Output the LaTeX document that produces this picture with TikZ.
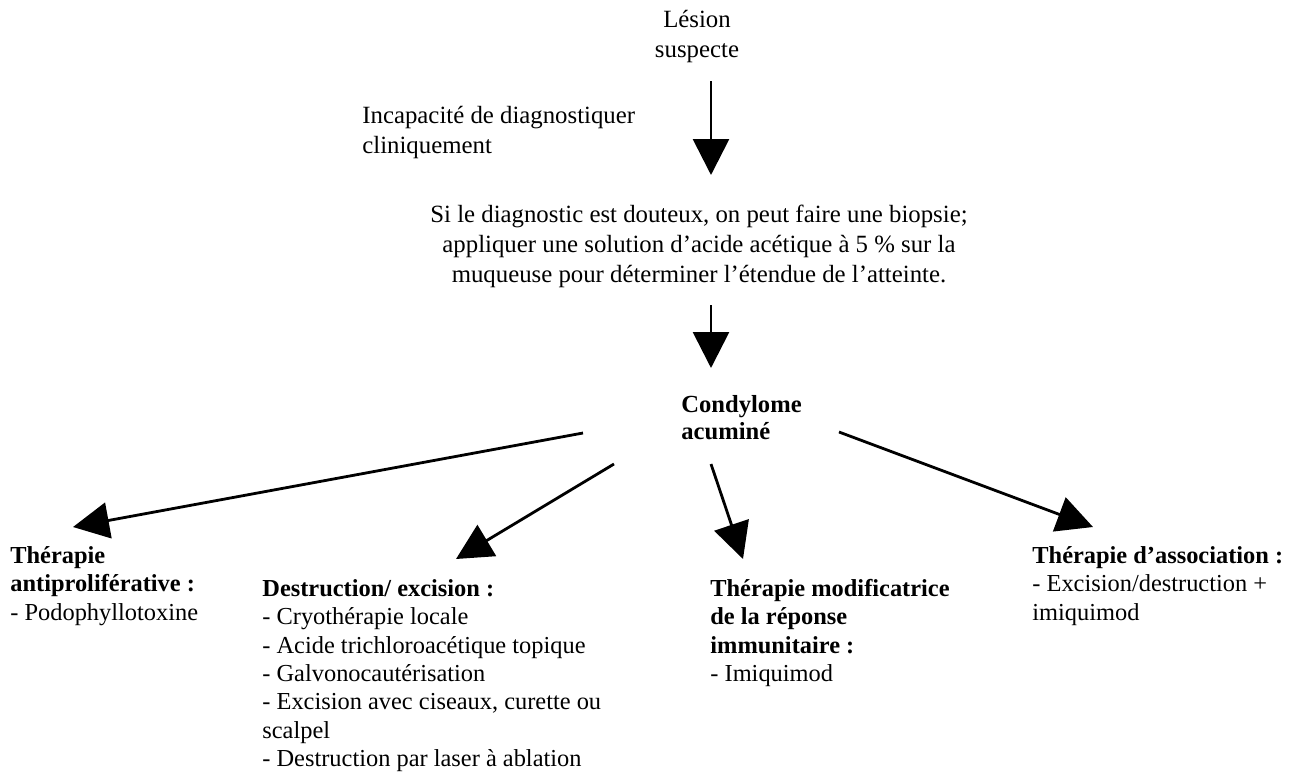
\documentclass[tikz,border=0pt]{standalone}
\usepackage{fontspec}
\setmainfont{Liberation Serif}
\usetikzlibrary{arrows.meta}

\begin{document}
\begin{tikzpicture}
          [x=0.5pt,y=-0.5pt,
           every node/.style={inner sep=0pt,align=left,font=\fontsize{12.2}{14.2}\selectfont},
           wide/.style={font=\fontsize{12.4}{15}\selectfont},
           arr/.style={line width=1.4pt,-{Triangle[length=18pt,width=18pt]}}]

          \useasboundingbox (0,0) rectangle (1302,772);

          \node[wide,align=center,anchor=north] (lesion) at (697,10) {Lésion\\suspecte};
          \node[wide,anchor=north west] (incap) at (362,106) {Incapacité de diagnostiquer\\cliniquement};
          \node[wide,align=center,anchor=north] (biopsie) at (699,205)
            {Si le diagnostic est douteux, on peut faire une biopsie;\\
             appliquer une solution d’acide acétique à 5~\% sur la\\
             muqueuse pour déterminer l’étendue de l’atteinte.};
          \node[anchor=north west,font=\fontsize{12.3}{13.6}\selectfont\bfseries] (condy) at (681,395) {Condylome\\acuminé};

          \node[anchor=north west] (anti) at (10,546)
            {\textbf{Thérapie}\\\textbf{antiproliférative :}\\- Podophyllotoxine};
          \node[anchor=north west] (destr) at (262,579)
            {\textbf{Destruction/ excision :}\\- Cryothérapie locale\\- Acide trichloroacétique topique\\
             - Galvonocautérisation\\- Excision avec ciseaux, curette ou\\scalpel\\- Destruction par laser à ablation};
          \node[anchor=north west] (immun) at (710,579)
            {\textbf{Thérapie modificatrice}\\\textbf{de la réponse}\\\textbf{immunitaire :}\\- Imiquimod};
          \node[anchor=north west] (assoc) at (1032,546)
            {\textbf{Thérapie d’association :}\\- Excision/destruction +\\imiquimod};

          \coordinate (s1) at (711,81);
          \coordinate (t1) at (711,175);
          \coordinate (s2) at (711,305);
          \coordinate (t2) at (711,368);
          \coordinate (sa) at (583,433);
          \coordinate (ta) at (73,527);
          \coordinate (sd) at (614,464);
          \coordinate (td) at (456,559);
          \coordinate (si) at (711,464);
          \coordinate (ti) at (743,559);
          \coordinate (sc) at (839,432);
          \coordinate (tc) at (1093,527);

          \draw[arr] (s1) -- (t1);
          \draw[arr] (s2) -- (t2);
          \draw[arr] (sa) -- (ta);
          \draw[arr] (sd) -- (td);
          \draw[arr] (si) -- (ti);
          \draw[arr] (sc) -- (tc);
        \end{tikzpicture}
\end{document}
